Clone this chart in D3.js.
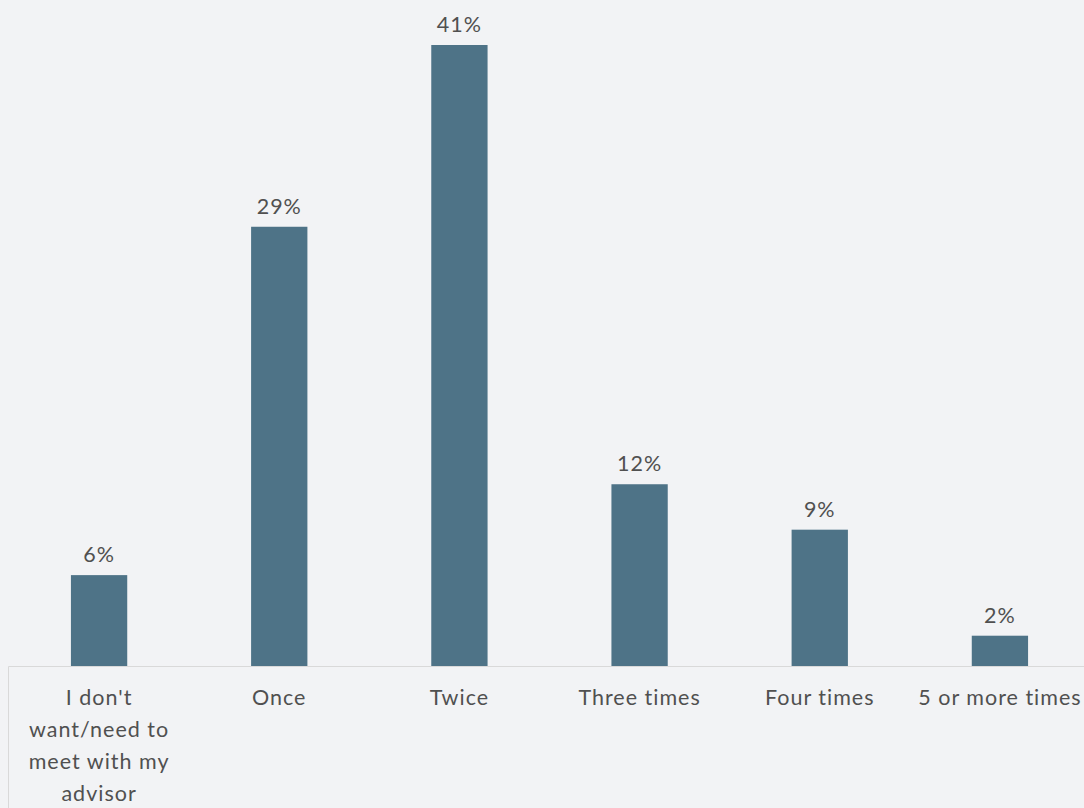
<!DOCTYPE html>
<html>
<head>
<meta charset="utf-8">
<script src="https://cdn.jsdelivr.net/npm/d3@7"></script>
<style>
  html, body { margin: 0; padding: 0; background: #f2f3f5; }
  svg { display: block; }
  text { font-family: Lato, "Open Sans", sans-serif; fill: #505050; letter-spacing: 1px; }
</style>
</head>
<body>
<svg id="chart" width="1084" height="808"></svg>
<script>
// Advisor meeting frequency: share of respondents (%)
const categories = [
  "I don't want/need to meet with my advisor",
  "Once",
  "Twice",
  "Three times",
  "Four times",
  "5 or more times"
];
const values = [6, 29, 41, 12, 9, 2];

const width = 1084, height = 808;
const baseline = 666;
const fontSize = 21.5;
const svg = d3.select("#chart");

const x = d3.scaleBand()
  .domain(categories)
  .range([9, 1090])
  .paddingInner(0.6875)
  .paddingOuter(0.34375);

const y = d3.scaleLinear()
  .domain([0, 41])
  .range([baseline, 45]);

// bars
svg.append("g")
  .selectAll("rect")
  .data(values)
  .join("rect")
  .attr("x", (d, i) => x(categories[i]))
  .attr("y", d => y(d))
  .attr("width", x.bandwidth())
  .attr("height", d => y(0) - y(d))
  .attr("fill", "#4e7387");

// value labels
svg.append("g")
  .selectAll("text")
  .data(values)
  .join("text")
  .attr("x", (d, i) => x(categories[i]) + x.bandwidth() / 2)
  .attr("y", d => y(d) - 13)
  .attr("text-anchor", "middle")
  .attr("font-size", fontSize)
  .text(d => d + "%");

// category axis
const axis = d3.axisBottom(x).tickSize(0).tickPadding(0);
const gx = svg.append("g")
  .attr("transform", `translate(0,${baseline})`)
  .call(axis);
gx.select(".domain").remove();
gx.selectAll(".tick text")
  .attr("font-size", fontSize)
  .attr("fill", "#505050")
  .attr("font-family", "Lato, 'Open Sans', sans-serif")
  .attr("dy", null)
  .attr("y", 39)
  .call(wrap, 172);

svg.append("line")
  .attr("x1", 8.5).attr("x2", width)
  .attr("y1", baseline + 0.5).attr("y2", baseline + 0.5)
  .attr("stroke", "#d9d9d9").attr("stroke-width", 1);
svg.append("line")
  .attr("x1", 8.5).attr("x2", 8.5)
  .attr("y1", baseline + 0.5).attr("y2", height)
  .attr("stroke", "#d9d9d9").attr("stroke-width", 1);

function wrap(texts, maxWidth) {
  texts.each(function () {
    const t = d3.select(this);
    const words = t.text().split(/\s+/);
    const y0 = +t.attr("y");
    t.text(null);
    let line = [];
    let lineNo = 0;
    let tspan = t.append("tspan").attr("x", 0).attr("y", y0);
    for (const w of words) {
      line.push(w);
      tspan.text(line.join(" "));
      if (tspan.node().getComputedTextLength() > maxWidth && line.length > 1) {
        line.pop();
        tspan.text(line.join(" "));
        line = [w];
        lineNo++;
        tspan = t.append("tspan").attr("x", 0).attr("y", y0 + lineNo * 32).text(w);
      }
    }
  });
}
</script>
</body>
</html>
